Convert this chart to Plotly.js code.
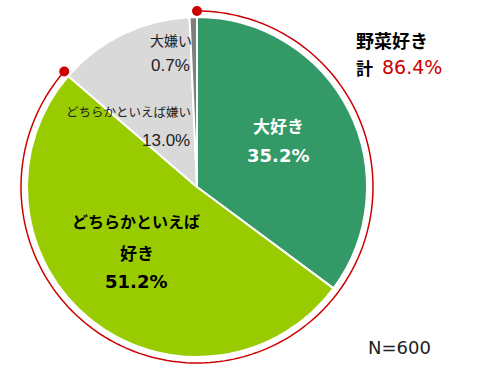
<!DOCTYPE html>
<html><head><meta charset="utf-8">
<script src="https://cdn.plot.ly/plotly-3.0.1.min.js"></script>
<style>html,body{margin:0;padding:0;background:#fff}#chart{width:500px;height:373px}</style>
</head><body><div id="chart"></div>
<script>
const categories = ["大好き", "どちらかといえば好き", "どちらかといえば嫌い", "大嫌い"];
const values = [35.2, 51.2, 13.0, 0.7];
const colors = ["#339966", "#99cc00", "#d9d9d9", "#7f7f7f"];
const likedTotal = 86.4;
const sampleN = 600;

const W = 500, H = 373;
const cx = 197, cy = 187, R = 170;
const fx = px => px / W, fy = py => 1 - py / H;

const pie = {
  type: "pie", values: values, labels: categories, sort: false,
  direction: "clockwise", rotation: 0,
  marker: {colors: colors, line: {color: "#ffffff", width: 2}},
  textinfo: "none", hoverinfo: "none", showlegend: false,
  domain: {x: [fx(cx - R), fx(cx + R)], y: [fy(cy + R), fy(cy - R)]}
};

const RA = 176, RP = 180;
const thetaEnd = likedTotal * 3.6;
const th = [], rr = [];
for (let i = 0; i <= 200; i++) { th.push(thetaEnd * i / 200); rr.push(RA); }
const arc = {type: "scatterpolar", mode: "lines", r: rr, theta: th,
  line: {color: "#cc0000", width: 1.5}, hoverinfo: "none", showlegend: false};
const dots = {type: "scatterpolar", mode: "markers", r: [RA, RA], theta: [0, thetaEnd],
  marker: {color: "#cc0000", size: 10}, hoverinfo: "none", showlegend: false};

const jp = "Noto Sans CJK JP";
const numB = "DejaVu Sans";
const numR = "Liberation Sans";
function ann(text, x, y, size, color, bold, anchor, family) {
  return {xref: "paper", yref: "paper", x: fx(x), y: fy(y), text: bold ? "<b>" + text + "</b>" : text,
    showarrow: false, xanchor: anchor || "center", yanchor: "middle",
    font: {family: family || jp, size: size, color: color}};
}
const annotations = [
  ann(categories[0], 278, 125, 17, "#ffffff", true),
  ann(values[0].toFixed(1) + "%", 278, 155, 18, "#ffffff", true, "center", numB),
  ann("どちらかといえば", 136, 221, 16, "#000000", true),
  ann("好き", 137, 252, 17, "#000000", true),
  ann(values[1].toFixed(1) + "%", 136, 281, 18, "#000000", true, "center", numB),
  ann(categories[2], 128, 112, 12.5, "#222222", false),
  ann(values[2].toFixed(1) + "%", 166, 140, 17, "#222222", false, "center", numR),
  ann(categories[3], 171, 40, 14, "#222222", false),
  ann(values[3].toFixed(1) + "%", 170, 65, 17, "#222222", false, "center", numR),
  ann("野菜好き", 354, 40, 18, "#000000", true, "left"),
  ann("計", 354, 67, 17, "#000000", true, "left"),
  ann(likedTotal.toFixed(1) + "%", 380, 67, 19, "#cc0000", false, "left", numB),
  ann("N=" + sampleN, 366, 347, 18, "#222222", false, "left", numB)
];

const layout = {
  width: W, height: H, margin: {l: 0, r: 0, t: 0, b: 0},
  paper_bgcolor: "#ffffff", plot_bgcolor: "#ffffff",
  polar: {
    domain: {x: [fx(cx - RP), fx(cx + RP)], y: [fy(cy + RP), fy(cy - RP)]},
    bgcolor: "rgba(0,0,0,0)",
    radialaxis: {visible: false, range: [0, RP]},
    angularaxis: {visible: false, rotation: 90, direction: "clockwise"}
  },
  annotations: annotations
};
Plotly.newPlot("chart", [pie, arc, dots], layout, {staticPlot: true});
</script></body></html>
